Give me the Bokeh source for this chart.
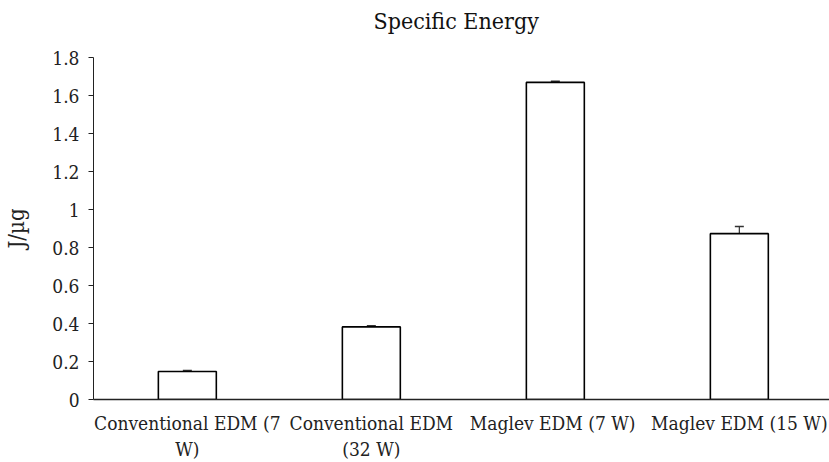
from bokeh.plotting import figure
from bokeh.models import Range1d, ColumnDataSource, Whisker, TeeHead, FixedTicker, Title
from bokeh.embed import file_html
from bokeh.resources import INLINE

title_text = "Specific Energy"
categories = ["Conventional EDM (7\nW)", "Conventional EDM\n(32 W)", "Maglev EDM  (7 W)", "Maglev EDM (15 W)"]
values = [0.147, 0.382, 1.669, 0.873]
errors = [0.006, 0.006, 0.006, 0.037]
y_ticks = [0, 0.2, 0.4, 0.6, 0.8, 1.0, 1.2, 1.4, 1.6, 1.8]
y_labels = ["0", "0.2", "0.4", "0.6", "0.8", "1", "1.2", "1.4", "1.6", "1.8"]

FONT = "DejaVu Serif Condensed"

xs = list(range(len(categories)))
src = ColumnDataSource(dict(
    x=xs, top=values,
    upper=[v + e for v, e in zip(values, errors)],
    lower=[v - e for v, e in zip(values, errors)],
))

p = figure(width=829, height=462, output_backend="svg", toolbar_location=None,
           x_range=Range1d(-0.51, 3.49), y_range=Range1d(0, 1.8),
           min_border_left=93, min_border_right=0, min_border_top=57, min_border_bottom=62)

# spacer panel next to the frame, then the real title above it
p.add_layout(Title(text=" ", text_font_size="1px", standoff=12), "above")
p.add_layout(Title(text=title_text, align="left", offset=280, vertical_align="top", standoff=14,
                   text_font=FONT, text_font_size="23px", text_font_style="normal",
                   text_color="#111111"), "above")

p.vbar(x="x", top="top", width=0.315, source=src, fill_color="white",
       line_color="black", line_width=1.6)

w = Whisker(base="x", upper="upper", lower="lower", source=src,
            line_color="#333333", line_width=1.2,
            upper_head=TeeHead(size=9, line_color="#333333", line_width=1.5),
            lower_head=TeeHead(size=9, line_color="#333333", line_width=1.5))
p.add_layout(w)

p.outline_line_color = None
p.xgrid.grid_line_color = None
p.ygrid.grid_line_color = None

p.yaxis.ticker = FixedTicker(ticks=y_ticks)
p.yaxis.major_label_overrides = {t: l for t, l in zip(y_ticks, y_labels)}
p.yaxis.axis_label = "J/µg"
p.yaxis.axis_label_text_font = FONT
p.yaxis.axis_label_text_font_style = "normal"
p.yaxis.axis_label_text_font_size = "22px"
p.yaxis.axis_label_text_color = "#222222"
p.yaxis.axis_label_standoff = 20
p.yaxis.major_label_text_font = FONT
p.yaxis.major_label_text_font_size = "19px"
p.yaxis.major_label_text_color = "#222222"
p.yaxis.major_tick_out = 5
p.yaxis.major_tick_in = 0
p.yaxis.minor_tick_line_color = None
p.yaxis.axis_line_color = "#222222"
p.yaxis.major_tick_line_color = "#222222"
p.yaxis.major_label_standoff = 9

p.xaxis.ticker = FixedTicker(ticks=xs)
p.xaxis.major_label_overrides = {i: c for i, c in zip(xs, categories)}
p.xaxis.major_label_text_font = FONT
p.xaxis.major_label_text_font_size = "19px"
p.xaxis.major_label_text_color = "#222222"
p.xaxis.major_tick_line_color = None
p.xaxis.minor_tick_line_color = None
p.xaxis.axis_line_color = "#222222"
p.xaxis.axis_line_width = 1.5
p.xaxis.major_label_standoff = 6

open("out.html", "w").write(file_html(p, INLINE))
